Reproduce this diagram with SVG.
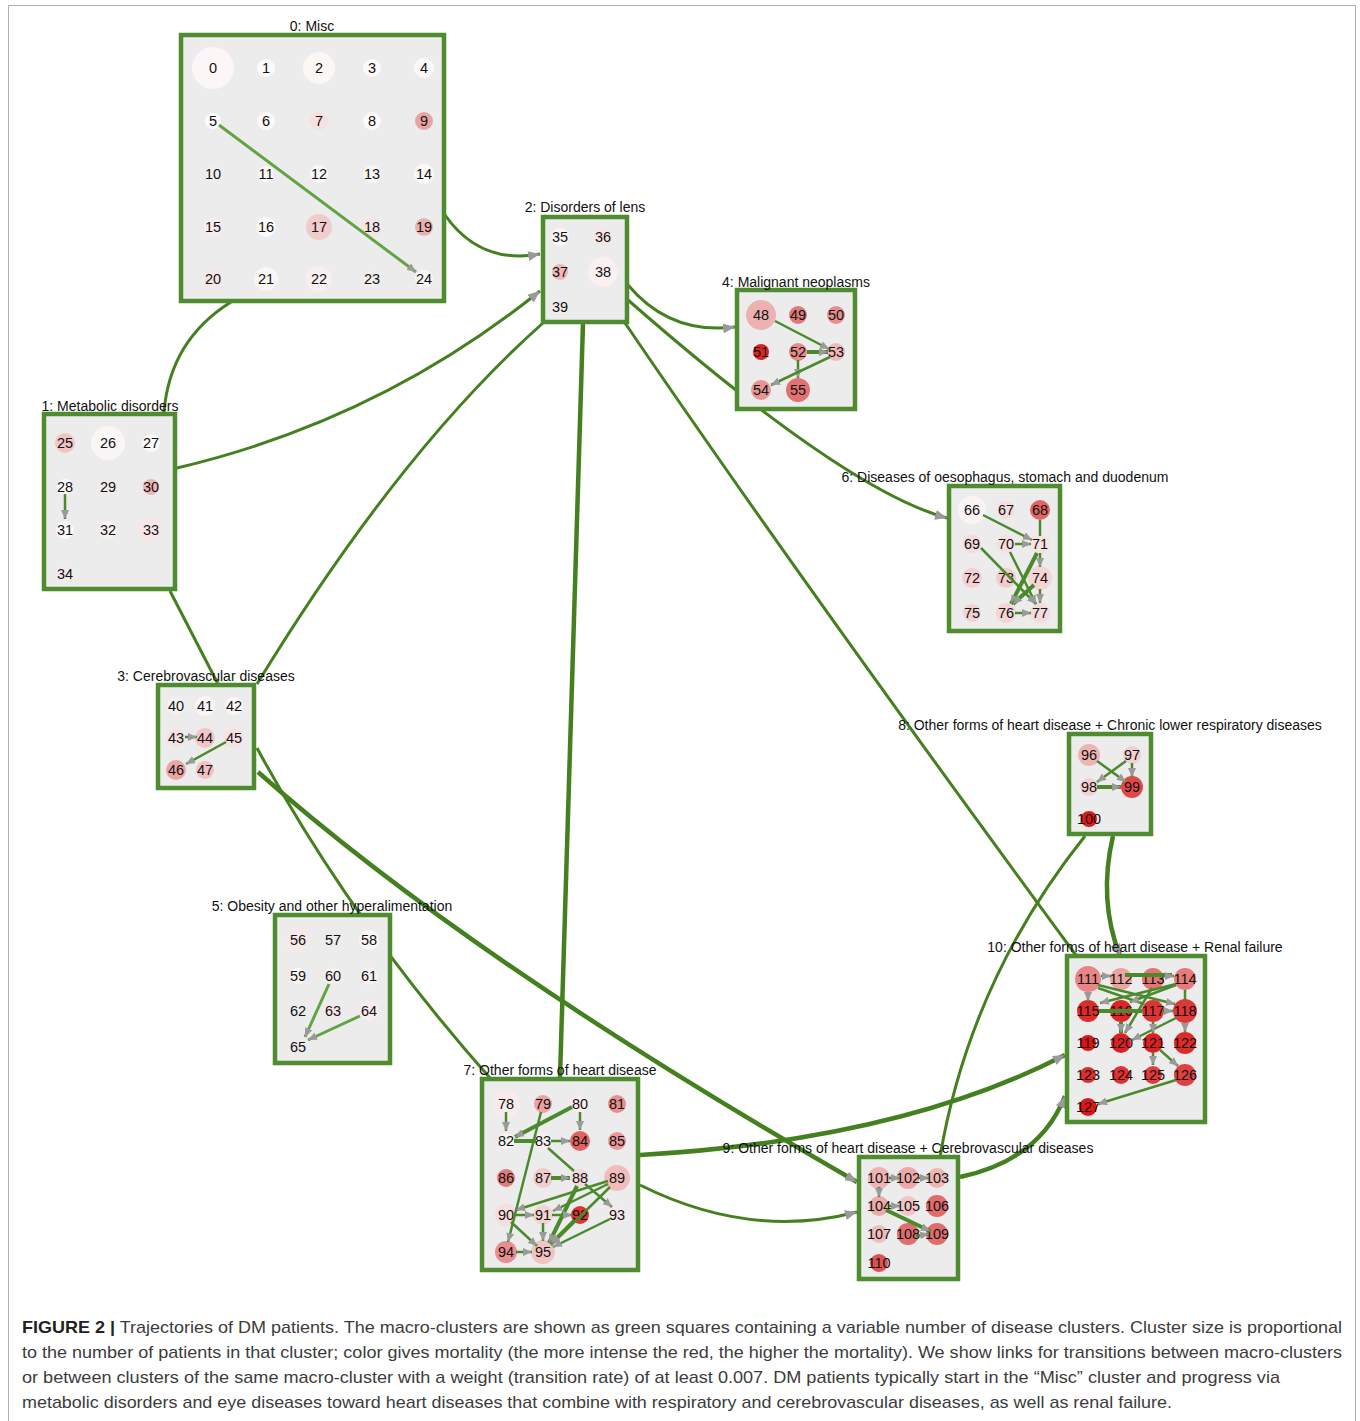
<svg xmlns="http://www.w3.org/2000/svg" width="1360" height="1421" viewBox="0 0 1360 1421">
<defs>
<style>
.box{fill:#ececec;stroke:#4e8c2f;stroke-width:4.5}
.lbl{font-family:"Liberation Sans",Arial,sans-serif;font-size:14px;fill:#111;text-anchor:middle}
.nt{font-family:"Liberation Sans",Arial,sans-serif;font-size:14.5px;fill:#111;text-anchor:middle}
.ce{fill:none;stroke:#44801f;stroke-width:3}
.ct{fill:none;stroke:#44801f;stroke-width:4.5}
.ie{fill:none;stroke:#4a8a2c;stroke-width:2.5}
.it{fill:none;stroke:#4a8a2c;stroke-width:4}
.il{fill:none;stroke:#62a443;stroke-width:3}
.cap{font-family:"Liberation Sans",Arial,sans-serif;font-size:17px;fill:#3c3c3c}
</style>
<marker id="ab" viewBox="0 0 12 10" refX="12" refY="5" markerWidth="12" markerHeight="10" markerUnits="userSpaceOnUse" orient="auto"><path d="M0,0 L12,5 L0,10 z" fill="#9a9a9a"/></marker>
<marker id="as" viewBox="0 0 9 8" refX="9" refY="4" markerWidth="9" markerHeight="8" markerUnits="userSpaceOnUse" orient="auto"><path d="M0,0 L9,4 L0,8 z" fill="#9a9a9a"/></marker>
</defs>
<rect x="8.5" y="5.5" width="1347" height="1440" fill="none" stroke="#b0b0b0" stroke-width="1"/>

<g id="connectors">
<path class="ce" d="M445,215 Q480,265 540,254" marker-end="url(#ab)"/>
<path class="ce" d="M231,302 Q170,340 164,412"/>
<path class="ce" d="M177,468 Q380,420 540,291" marker-end="url(#ab)"/>
<path class="ce" d="M170,591 L218,684"/>
<path class="ce" d="M543,323 Q400,450 257,684"/>
<path class="ce" d="M628,285 Q670,335 735,327" marker-end="url(#ab)"/>
<path class="ce" d="M628,300 Q845,490 947,518" marker-end="url(#ab)"/>
<path class="ct" d="M583,323 Q572,700 560,1077"/>
<path class="ce" d="M625,323 Q800,580 1078,958"/>
<path class="ct" d="M258,772 Q470,960 857,1182" marker-end="url(#ab)"/>
<path class="ce" d="M257,748 Q350,920 490,1078"/>
<path class="ct" d="M640,1155 Q900,1140 1065,1055" marker-end="url(#ab)"/>
<path class="ce" d="M640,1185 Q750,1240 857,1212" marker-end="url(#ab)"/>
<path class="ct" d="M960,1177 Q1040,1160 1065,1096" marker-end="url(#ab)"/>
<path class="ce" d="M940,1157 Q970,980 1085,836"/>
<path class="ct" d="M1113,836 Q1098,900 1120,956" marker-end="url(#ab)"/>
</g>

<g id="clusters">
<g id="c0"><rect class="box" x="181" y="35" width="263" height="266"/><text class="lbl" x="312" y="31">0: Misc</text></g>
<g id="c1"><rect class="box" x="44" y="414" width="131" height="175"/><text class="lbl" x="110" y="411">1: Metabolic disorders</text></g>
<g id="c2"><rect class="box" x="543" y="217" width="84" height="105"/><text class="lbl" x="585" y="212">2: Disorders of lens</text></g>
<g id="c3"><rect class="box" x="158" y="685" width="96" height="103"/><text class="lbl" x="206" y="681">3: Cerebrovascular diseases</text></g>
<g id="c4"><rect class="box" x="737" y="290" width="118" height="119"/><text class="lbl" x="796" y="287">4: Malignant neoplasms</text></g>
<g id="c5"><rect class="box" x="275" y="915" width="115" height="148"/><text class="lbl" x="332" y="911">5: Obesity and other hyperalimentation</text></g>
<g id="c6"><rect class="box" x="949" y="486" width="111" height="145"/><text class="lbl" x="1005" y="482">6: Diseases of oesophagus, stomach and duodenum</text></g>
<g id="c7"><rect class="box" x="482" y="1079" width="156" height="191"/><text class="lbl" x="560" y="1075">7: Other forms of heart disease</text></g>
<g id="c8"><rect class="box" x="1069" y="734" width="82" height="100"/><text class="lbl" x="1110" y="730">8: Other forms of heart disease + Chronic lower respiratory diseases</text></g>
<g id="c9"><rect class="box" x="859" y="1157" width="99" height="122"/><text class="lbl" x="908" y="1153">9: Other forms of heart disease + Cerebrovascular diseases</text></g>
<g id="c10"><rect class="box" x="1067" y="956" width="138" height="166"/><text class="lbl" x="1135" y="952">10: Other forms of heart disease + Renal failure</text></g>
</g>

<g id="nodes">
<g id="n0"><circle cx="213" cy="68" r="21" fill="#fcf7f6"/><text class="nt" x="213" y="73">0</text></g>
<g id="n1"><circle cx="266" cy="68" r="9" fill="#fdfafa"/><text class="nt" x="266" y="73">1</text></g>
<g id="n2"><circle cx="319" cy="68" r="16" fill="#fcf6f5"/><text class="nt" x="319" y="73">2</text></g>
<g id="n3"><circle cx="372" cy="68" r="9" fill="#fdf9f9"/><text class="nt" x="372" y="73">3</text></g>
<g id="n4"><circle cx="424" cy="68" r="10" fill="#fdf9f9"/><text class="nt" x="424" y="73">4</text></g>
<g id="n5"><circle cx="213" cy="121" r="8" fill="#fdfbfb"/><text class="nt" x="213" y="126">5</text></g>
<g id="n6"><circle cx="266" cy="121" r="9" fill="#fdf9f9"/><text class="nt" x="266" y="126">6</text></g>
<g id="n7"><circle cx="319" cy="121" r="9" fill="#f6e0e0"/><text class="nt" x="319" y="126">7</text></g>
<g id="n8"><circle cx="372" cy="121" r="9" fill="#fdf9f9"/><text class="nt" x="372" y="126">8</text></g>
<g id="n9"><circle cx="424" cy="121" r="9" fill="#e8a4a4"/><text class="nt" x="424" y="126">9</text></g>
<g id="n10"><circle cx="213" cy="174" r="8" fill="#f3eeee"/><text class="nt" x="213" y="179">10</text></g>
<g id="n11"><circle cx="266" cy="174" r="8" fill="#fbf7f7"/><text class="nt" x="266" y="179">11</text></g>
<g id="n12"><circle cx="319" cy="174" r="9" fill="#fbf7f7"/><text class="nt" x="319" y="179">12</text></g>
<g id="n13"><circle cx="372" cy="174" r="9" fill="#faf5f5"/><text class="nt" x="372" y="179">13</text></g>
<g id="n14"><circle cx="424" cy="174" r="10" fill="#fcf8f8"/><text class="nt" x="424" y="179">14</text></g>
<g id="n15"><circle cx="213" cy="227" r="9" fill="#f8ecec"/><text class="nt" x="213" y="232">15</text></g>
<g id="n16"><circle cx="266" cy="227" r="10" fill="#fdfafa"/><text class="nt" x="266" y="232">16</text></g>
<g id="n17"><circle cx="319" cy="227" r="13" fill="#f2cccc"/><text class="nt" x="319" y="232">17</text></g>
<g id="n18"><circle cx="372" cy="227" r="10" fill="#f6e4e4"/><text class="nt" x="372" y="232">18</text></g>
<g id="n19"><circle cx="424" cy="227" r="9" fill="#ebb0b0"/><text class="nt" x="424" y="232">19</text></g>
<g id="n20"><circle cx="213" cy="279" r="10" fill="#f7e6e6"/><text class="nt" x="213" y="284">20</text></g>
<g id="n21"><circle cx="266" cy="279" r="12" fill="#fbf6f6"/><text class="nt" x="266" y="284">21</text></g>
<g id="n22"><circle cx="319" cy="279" r="13" fill="#f9efef"/><text class="nt" x="319" y="284">22</text></g>
<g id="n23"><circle cx="372" cy="279" r="8" fill="#f2eeee"/><text class="nt" x="372" y="284">23</text></g>
<g id="n24"><circle cx="424" cy="279" r="9" fill="#fbf8f8"/><text class="nt" x="424" y="284">24</text></g>

<g id="n25"><circle cx="65" cy="443" r="10" fill="#f2c4c4"/><text class="nt" x="65" y="448">25</text></g>
<g id="n26"><circle cx="108" cy="443" r="17" fill="#fbf6f6"/><text class="nt" x="108" y="448">26</text></g>
<g id="n27"><circle cx="151" cy="443" r="9" fill="#fbf8f8"/><text class="nt" x="151" y="448">27</text></g>
<g id="n28"><circle cx="65" cy="487" r="8" fill="#fcf9f9"/><text class="nt" x="65" y="492">28</text></g>
<g id="n29"><circle cx="108" cy="487" r="6" fill="#f0ecec"/><text class="nt" x="108" y="492">29</text></g>
<g id="n30"><circle cx="151" cy="487" r="8" fill="#edb4b4"/><text class="nt" x="151" y="492">30</text></g>
<g id="n31"><circle cx="65" cy="530" r="9" fill="#fcf9f9"/><text class="nt" x="65" y="535">31</text></g>
<g id="n32"><circle cx="108" cy="530" r="9" fill="#f9f2f2"/><text class="nt" x="108" y="535">32</text></g>
<g id="n33"><circle cx="151" cy="530" r="12" fill="#f8e6e6"/><text class="nt" x="151" y="535">33</text></g>
<g id="n34"><circle cx="65" cy="574" r="8" fill="#f6eaea"/><text class="nt" x="65" y="579">34</text></g>

<g id="n35"><circle cx="560" cy="237" r="9" fill="#fbf6f6"/><text class="nt" x="560" y="242">35</text></g>
<g id="n36"><circle cx="603" cy="237" r="9" fill="#f7e4e4"/><text class="nt" x="603" y="242">36</text></g>
<g id="n37"><circle cx="560" cy="272" r="8" fill="#efb7b7"/><text class="nt" x="560" y="277">37</text></g>
<g id="n38"><circle cx="603" cy="272" r="15" fill="#fbefef"/><text class="nt" x="603" y="277">38</text></g>
<g id="n39"><circle cx="560" cy="307" r="8" fill="#f1ecec"/><text class="nt" x="560" y="312">39</text></g>

<g id="n40"><circle cx="176" cy="706" r="9" fill="#f7f0f0"/><text class="nt" x="176" y="711">40</text></g>
<g id="n41"><circle cx="205" cy="706" r="10" fill="#fbf6f6"/><text class="nt" x="205" y="711">41</text></g>
<g id="n42"><circle cx="234" cy="706" r="9" fill="#fbf7f7"/><text class="nt" x="234" y="711">42</text></g>
<g id="n43"><circle cx="176" cy="738" r="9" fill="#f6e0e0"/><text class="nt" x="176" y="743">43</text></g>
<g id="n44"><circle cx="205" cy="738" r="10" fill="#f2c6c6"/><text class="nt" x="205" y="743">44</text></g>
<g id="n45"><circle cx="234" cy="738" r="10" fill="#f7e0e0"/><text class="nt" x="234" y="743">45</text></g>
<g id="n46"><circle cx="176" cy="770" r="10" fill="#eca5a5"/><text class="nt" x="176" y="775">46</text></g>
<g id="n47"><circle cx="205" cy="770" r="9" fill="#f2c2c2"/><text class="nt" x="205" y="775">47</text></g>

<g id="n48"><circle cx="761" cy="315" r="15" fill="#edb1b1"/><text class="nt" x="761" y="320">48</text></g>
<g id="n49"><circle cx="798" cy="315" r="9" fill="#e27979"/><text class="nt" x="798" y="320">49</text></g>
<g id="n50"><circle cx="836" cy="315" r="9" fill="#e78f8f"/><text class="nt" x="836" y="320">50</text></g>
<g id="n51"><circle cx="761" cy="352" r="8" fill="#dc2424"/><text class="nt" x="761" y="357">51</text></g>
<g id="n52"><circle cx="798" cy="352" r="9" fill="#e68a8a"/><text class="nt" x="798" y="357">52</text></g>
<g id="n53"><circle cx="836" cy="352" r="9" fill="#f0b8b8"/><text class="nt" x="836" y="357">53</text></g>
<g id="n54"><circle cx="761" cy="390" r="10" fill="#e99494"/><text class="nt" x="761" y="395">54</text></g>
<g id="n55"><circle cx="798" cy="390" r="12" fill="#e27272"/><text class="nt" x="798" y="395">55</text></g>

<g id="n56"><circle cx="298" cy="940" r="12" fill="#f8e8e8"/><text class="nt" x="298" y="945">56</text></g>
<g id="n57"><text class="nt" x="333" y="945">57</text></g>
<g id="n58"><circle cx="369" cy="940" r="10" fill="#fbf6f6"/><text class="nt" x="369" y="945">58</text></g>
<g id="n59"><circle cx="298" cy="976" r="8" fill="#fbf8f8"/><text class="nt" x="298" y="981">59</text></g>
<g id="n60"><circle cx="333" cy="976" r="9" fill="#f8ecec"/><text class="nt" x="333" y="981">60</text></g>
<g id="n61"><circle cx="369" cy="976" r="9" fill="#f9f1f1"/><text class="nt" x="369" y="981">61</text></g>
<g id="n62"><text class="nt" x="298" y="1016">62</text></g>
<g id="n63"><circle cx="333" cy="1011" r="9" fill="#f7e7e7"/><text class="nt" x="333" y="1016">63</text></g>
<g id="n64"><circle cx="369" cy="1011" r="10" fill="#f9eded"/><text class="nt" x="369" y="1016">64</text></g>
<g id="n65"><circle cx="298" cy="1047" r="7" fill="#f1eaea"/><text class="nt" x="298" y="1052">65</text></g>

<g id="n66"><circle cx="972" cy="510" r="14" fill="#fcf3f3"/><text class="nt" x="972" y="515">66</text></g>
<g id="n67"><circle cx="1006" cy="510" r="9" fill="#f6dede"/><text class="nt" x="1006" y="515">67</text></g>
<g id="n68"><circle cx="1040" cy="510" r="10" fill="#e26565"/><text class="nt" x="1040" y="515">68</text></g>
<g id="n69"><circle cx="972" cy="544" r="9" fill="#f5dada"/><text class="nt" x="972" y="549">69</text></g>
<g id="n70"><circle cx="1006" cy="544" r="9" fill="#f6dede"/><text class="nt" x="1006" y="549">70</text></g>
<g id="n71"><circle cx="1040" cy="544" r="10" fill="#f7e2e2"/><text class="nt" x="1040" y="549">71</text></g>
<g id="n72"><circle cx="972" cy="578" r="10" fill="#f4d0d0"/><text class="nt" x="972" y="583">72</text></g>
<g id="n73"><circle cx="1006" cy="578" r="10" fill="#f2caca"/><text class="nt" x="1006" y="583">73</text></g>
<g id="n74"><circle cx="1040" cy="578" r="12" fill="#f4d4d4"/><text class="nt" x="1040" y="583">74</text></g>
<g id="n75"><circle cx="972" cy="613" r="9" fill="#f4d2d2"/><text class="nt" x="972" y="618">75</text></g>
<g id="n76"><circle cx="1006" cy="613" r="10" fill="#f4d4d4"/><text class="nt" x="1006" y="618">76</text></g>
<g id="n77"><circle cx="1040" cy="613" r="10" fill="#f5dada"/><text class="nt" x="1040" y="618">77</text></g>

<g id="n78"><circle cx="506" cy="1104" r="14" fill="#f9ebeb"/><text class="nt" x="506" y="1109">78</text></g>
<g id="n79"><circle cx="543" cy="1104" r="9" fill="#eba2a2"/><text class="nt" x="543" y="1109">79</text></g>
<g id="n80"><circle cx="580" cy="1104" r="9" fill="#f8ecec"/><text class="nt" x="580" y="1109">80</text></g>
<g id="n81"><circle cx="617" cy="1104" r="9" fill="#e88e8e"/><text class="nt" x="617" y="1109">81</text></g>
<g id="n82"><circle cx="506" cy="1141" r="8" fill="#faf3f3"/><text class="nt" x="506" y="1146">82</text></g>
<g id="n83"><circle cx="543" cy="1141" r="8" fill="#f8eeee"/><text class="nt" x="543" y="1146">83</text></g>
<g id="n84"><circle cx="580" cy="1141" r="10" fill="#e06464"/><text class="nt" x="580" y="1146">84</text></g>
<g id="n85"><circle cx="617" cy="1141" r="9" fill="#e99797"/><text class="nt" x="617" y="1146">85</text></g>
<g id="n86"><circle cx="506" cy="1178" r="9" fill="#e37b7b"/><text class="nt" x="506" y="1183">86</text></g>
<g id="n87"><circle cx="543" cy="1178" r="10" fill="#f2cbcb"/><text class="nt" x="543" y="1183">87</text></g>
<g id="n88"><circle cx="580" cy="1178" r="9" fill="#f5d8d8"/><text class="nt" x="580" y="1183">88</text></g>
<g id="n89"><circle cx="617" cy="1178" r="13" fill="#f0bcbc"/><text class="nt" x="617" y="1183">89</text></g>
<g id="n90"><circle cx="506" cy="1215" r="11" fill="#f6dcdc"/><text class="nt" x="506" y="1220">90</text></g>
<g id="n91"><circle cx="543" cy="1215" r="10" fill="#f4d2d2"/><text class="nt" x="543" y="1220">91</text></g>
<g id="n92"><circle cx="580" cy="1215" r="9" fill="#dd3535"/><text class="nt" x="580" y="1220">92</text></g>
<g id="n93"><circle cx="617" cy="1215" r="9" fill="#f8eaea"/><text class="nt" x="617" y="1220">93</text></g>
<g id="n94"><circle cx="506" cy="1252" r="11" fill="#e88e8e"/><text class="nt" x="506" y="1257">94</text></g>
<g id="n95"><circle cx="543" cy="1252" r="12" fill="#f1c3c3"/><text class="nt" x="543" y="1257">95</text></g>

<g id="n96"><circle cx="1089" cy="755" r="11" fill="#eeb4b4"/><text class="nt" x="1089" y="760">96</text></g>
<g id="n97"><circle cx="1132" cy="755" r="9" fill="#f3cfcf"/><text class="nt" x="1132" y="760">97</text></g>
<g id="n98"><circle cx="1089" cy="787" r="9" fill="#f3d0d0"/><text class="nt" x="1089" y="792">98</text></g>
<g id="n99"><circle cx="1132" cy="787" r="11" fill="#e24848"/><text class="nt" x="1132" y="792">99</text></g>
<g id="n100"><circle cx="1089" cy="819" r="8" fill="#dd1a1a"/><text class="nt" x="1089" y="824">100</text></g>

<g id="n101"><circle cx="879" cy="1178" r="11" fill="#f0b3b3"/><text class="nt" x="879" y="1183">101</text></g>
<g id="n102"><circle cx="908" cy="1178" r="11" fill="#eea8a8"/><text class="nt" x="908" y="1183">102</text></g>
<g id="n103"><circle cx="937" cy="1178" r="10" fill="#f0b5b5"/><text class="nt" x="937" y="1183">103</text></g>
<g id="n104"><circle cx="879" cy="1206" r="10" fill="#eeaaaa"/><text class="nt" x="879" y="1211">104</text></g>
<g id="n105"><circle cx="908" cy="1206" r="10" fill="#f3c5c5"/><text class="nt" x="908" y="1211">105</text></g>
<g id="n106"><circle cx="937" cy="1206" r="11" fill="#e16b6b"/><text class="nt" x="937" y="1211">106</text></g>
<g id="n107"><circle cx="879" cy="1234" r="9" fill="#f1bcbc"/><text class="nt" x="879" y="1239">107</text></g>
<g id="n108"><circle cx="908" cy="1234" r="11" fill="#e16e6e"/><text class="nt" x="908" y="1239">108</text></g>
<g id="n109"><circle cx="937" cy="1234" r="11" fill="#e16c6c"/><text class="nt" x="937" y="1239">109</text></g>
<g id="n110"><circle cx="879" cy="1263" r="9" fill="#e05252"/><text class="nt" x="879" y="1268">110</text></g>

<g id="n111"><circle cx="1088" cy="979" r="13" fill="#e98585"/><text class="nt" x="1088" y="984">111</text></g>
<g id="n112"><circle cx="1121" cy="979" r="11" fill="#eda3a3"/><text class="nt" x="1121" y="984">112</text></g>
<g id="n113"><circle cx="1153" cy="979" r="11" fill="#e77474"/><text class="nt" x="1153" y="984">113</text></g>
<g id="n114"><circle cx="1185" cy="979" r="11" fill="#e87a7a"/><text class="nt" x="1185" y="984">114</text></g>
<g id="n115"><circle cx="1088" cy="1011" r="11" fill="#df2a2a"/><text class="nt" x="1088" y="1016">115</text></g>
<g id="n116"><circle cx="1121" cy="1011" r="11" fill="#df2525"/><text class="nt" x="1121" y="1016">116</text></g>
<g id="n117"><circle cx="1153" cy="1011" r="11" fill="#e03333"/><text class="nt" x="1153" y="1016">117</text></g>
<g id="n118"><circle cx="1185" cy="1011" r="12" fill="#e03838"/><text class="nt" x="1185" y="1016">118</text></g>
<g id="n119"><circle cx="1088" cy="1043" r="8" fill="#dd1515"/><text class="nt" x="1088" y="1048">119</text></g>
<g id="n120"><circle cx="1121" cy="1043" r="10" fill="#de2020"/><text class="nt" x="1121" y="1048">120</text></g>
<g id="n121"><circle cx="1153" cy="1043" r="10" fill="#de2020"/><text class="nt" x="1153" y="1048">121</text></g>
<g id="n122"><circle cx="1185" cy="1043" r="11" fill="#df2a2a"/><text class="nt" x="1185" y="1048">122</text></g>
<g id="n123"><circle cx="1088" cy="1075" r="8" fill="#df2e2e"/><text class="nt" x="1088" y="1080">123</text></g>
<g id="n124"><circle cx="1121" cy="1075" r="9" fill="#e03030"/><text class="nt" x="1121" y="1080">124</text></g>
<g id="n125"><circle cx="1153" cy="1075" r="9" fill="#e03a3a"/><text class="nt" x="1153" y="1080">125</text></g>
<g id="n126"><circle cx="1185" cy="1075" r="11" fill="#e04040"/><text class="nt" x="1185" y="1080">126</text></g>
<g id="n127"><circle cx="1088" cy="1107" r="9" fill="#dd1515"/><text class="nt" x="1088" y="1112">127</text></g>
</g>

<g id="intra-connectors">
<path class="il" d="M219,125 L416,272" marker-end="url(#as)"/>
<path class="ie" d="M65,494 L65,519" marker-end="url(#as)"/>
<path class="ie" d="M185,737 L197,737" marker-end="url(#as)"/>
<path class="ie" d="M226,742 L186,764" marker-end="url(#as)"/>
<path class="ie" d="M775,321 L829,349" marker-end="url(#as)"/>
<path class="it" d="M807,352 L828,352" marker-end="url(#as)"/>
<path class="ie" d="M798,360 L798,378" marker-end="url(#as)"/>
<path class="ie" d="M830,357 L771,385" marker-end="url(#as)"/>
<path class="il" d="M329,984 L305,1037" marker-end="url(#as)"/>
<path class="il" d="M360,1016 L308,1040" marker-end="url(#as)"/>
<path class="ie" d="M983,515 L1032,540" marker-end="url(#as)"/>
<path class="ie" d="M1040,520 L1040,536"/>
<path class="ie" d="M1015,544 L1031,544" marker-end="url(#as)"/>
<path class="ie" d="M1040,553 L1040,567" marker-end="url(#as)"/>
<path class="ie" d="M981,548 L1036,604" marker-end="url(#as)"/>
<path class="ie" d="M1010,552 L1036,604" marker-end="url(#as)"/>
<path class="it" d="M1037,553 L1011,604" marker-end="url(#as)"/>
<path class="it" d="M1034,585 L1013,604" marker-end="url(#as)"/>
<path class="ie" d="M1040,589 L1040,603" marker-end="url(#as)"/>
<path class="ie" d="M1015,613 L1031,613" marker-end="url(#as)"/>
<path class="ie" d="M1097,761 L1126,782" marker-end="url(#as)"/>
<path class="ie" d="M1126,761 L1097,782" marker-end="url(#as)"/>
<path class="ie" d="M1132,763 L1132,777" marker-end="url(#as)"/>
<path class="it" d="M1097,787 L1121,787" marker-end="url(#as)"/>
<path class="ie" d="M1101,976 L1111,976" marker-end="url(#as)"/>
<path class="it" d="M1125,975 L1172,975"/>
<path class="ie" d="M1160,976 L1174,976" marker-end="url(#as)"/>
<path class="ie" d="M1088,992 L1088,1001" marker-end="url(#as)"/>
<path class="ie" d="M1098,985 L1175,1004" marker-end="url(#as)"/>
<path class="ie" d="M1098,988 L1144,1004"/>
<path class="ie" d="M1176,984 L1100,1003" marker-end="url(#as)"/>
<path class="ie" d="M1176,985 L1130,1002" marker-end="url(#as)"/>
<path class="ie" d="M1152,988 L1125,1033" marker-end="url(#as)"/>
<path class="ie" d="M1185,990 L1185,1000"/>
<path class="it" d="M1099,1011 L1142,1011"/>
<path class="ie" d="M1162,1011 L1173,1011" marker-end="url(#as)"/>
<path class="it" d="M1121,1022 L1121,1033" marker-end="url(#as)"/>
<path class="ie" d="M1176,1018 L1132,1040" marker-end="url(#as)"/>
<path class="ie" d="M1185,1023 L1185,1032" marker-end="url(#as)"/>
<path class="ie" d="M1153,1022 L1153,1033" marker-end="url(#as)"/>
<path class="ie" d="M1153,1053 L1153,1065" marker-end="url(#as)"/>
<path class="ie" d="M1160,1050 L1178,1066" marker-end="url(#as)"/>
<path class="ie" d="M1176,1080 L1098,1104" marker-end="url(#as)"/>
<path class="ie" d="M506,1112 L506,1131" marker-end="url(#as)"/>
<path class="it" d="M572,1107 L515,1137" marker-end="url(#as)"/>
<path class="ie" d="M541,1112 L508,1242" marker-end="url(#as)"/>
<path class="ie" d="M580,1112 L580,1130" marker-end="url(#as)"/>
<path class="it" d="M514,1141 L536,1141"/>
<path class="ie" d="M551,1141 L570,1141" marker-end="url(#as)"/>
<path class="ie" d="M548,1148 L574,1171"/>
<path class="it" d="M551,1178 L570,1178" marker-end="url(#as)"/>
<path class="ie" d="M585,1184 L612,1207" marker-end="url(#as)"/>
<path class="ie" d="M608,1181 L516,1210" marker-end="url(#as)"/>
<path class="ie" d="M608,1184 L553,1211" marker-end="url(#as)"/>
<path class="ie" d="M610,1187 L551,1245" marker-end="url(#as)"/>
<path class="it" d="M577,1186 L549,1243" marker-end="url(#as)"/>
<path class="ie" d="M574,1220 L551,1243" marker-end="url(#as)"/>
<path class="ie" d="M610,1219 L553,1247" marker-end="url(#as)"/>
<path class="ie" d="M516,1215 L534,1215" marker-end="url(#as)"/>
<path class="ie" d="M552,1215 L572,1215" marker-end="url(#as)"/>
<path class="ie" d="M543,1223 L543,1241" marker-end="url(#as)"/>
<path class="ie" d="M511,1222 L537,1246" marker-end="url(#as)"/>
<path class="ie" d="M516,1252 L532,1252" marker-end="url(#as)"/>
<path class="ie" d="M889,1178 L900,1178" marker-end="url(#as)"/>
<path class="ie" d="M918,1178 L929,1178" marker-end="url(#as)"/>
<path class="ie" d="M879,1187 L879,1197" marker-end="url(#as)"/>
<path class="ie" d="M889,1206 L900,1206" marker-end="url(#as)"/>
<path class="it" d="M886,1210 L930,1231" marker-end="url(#as)"/>
<path class="ie" d="M916,1236 L929,1234" marker-end="url(#as)"/>
</g>

<g id="caption">
<text class="cap" x="22" y="1333" textLength="1320" lengthAdjust="spacingAndGlyphs"><tspan font-weight="bold" fill="#222">FIGURE 2 |</tspan> Trajectories of DM patients. The macro-clusters are shown as green squares containing a variable number of disease clusters. Cluster size is proportional</text>
<text class="cap" x="22" y="1358" textLength="1320" lengthAdjust="spacingAndGlyphs">to the number of patients in that cluster; color gives mortality (the more intense the red, the higher the mortality). We show links for transitions between macro-clusters</text>
<text class="cap" x="22" y="1383" textLength="1258" lengthAdjust="spacingAndGlyphs">or between clusters of the same macro-cluster with a weight (transition rate) of at least 0.007. DM patients typically start in the “Misc” cluster and progress via</text>
<text class="cap" x="22" y="1408" textLength="1150" lengthAdjust="spacingAndGlyphs">metabolic disorders and eye diseases toward heart diseases that combine with respiratory and cerebrovascular diseases, as well as renal failure.</text>
</g>
</svg>
